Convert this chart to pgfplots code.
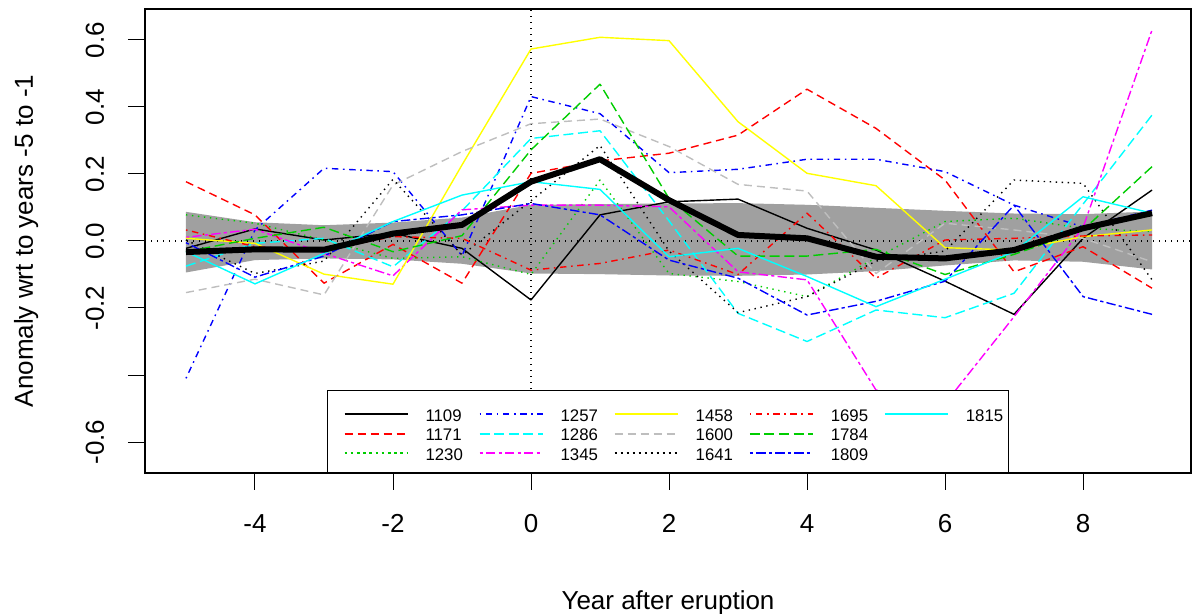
\documentclass[border=0pt]{standalone}
\usepackage{fontspec}
\setmainfont{Liberation Sans}
\usepackage{pgfplots}
\pgfplotsset{compat=1.18}
\usepackage{pgfplotstable}
\usepgfplotslibrary{fillbetween}

% R palette
\definecolor{rgreen}{RGB}{0,205,0}
\definecolor{rgray}{RGB}{190,190,190}
\definecolor{rblue}{RGB}{0,0,255}
\definecolor{rred}{RGB}{255,0,0}
\definecolor{rcyan}{RGB}{0,255,255}
\definecolor{rmagenta}{RGB}{255,0,255}
\definecolor{ryellow}{RGB}{255,255,0}
\definecolor{bandgray}{RGB}{160,160,160}

% R line types (lty 2..6)
\tikzset{
  ltydashed/.style={dash pattern=on 4pt off 2.5pt},
  ltydotted/.style={dash pattern=on 0.7pt off 2.3pt},
  ltydotdash/.style={dash pattern=on 0.8pt off 2.3pt on 3.2pt off 2.3pt},
  ltylongdash/.style={dash pattern=on 5pt off 2.3pt},
  ltytwodash/.style={dash pattern=on 1.6pt off 1.6pt on 4.7pt off 1.6pt},
}

% anomaly per eruption, years -5..9
\pgfplotstableread{
x  s1109  s1171  s1230  s1257  s1286  s1345  s1458  s1600  s1641  s1695  s1784  s1809  s1815  mean   up     lo
-5 -0.022  0.177  0.078 -0.410 -0.075  0.011  0.008 -0.154  0.003  0.033 -0.032 -0.005 -0.032 -0.033 0.087 -0.094
-4  0.036  0.078  0.053  0.033 -0.007  0.035 -0.007 -0.114 -0.097 -0.017  0.008 -0.108 -0.128 -0.025 0.056 -0.057
-3  0.003 -0.126  0.003  0.217  0.008 -0.037 -0.099 -0.161 -0.060 -0.027  0.041 -0.045 -0.037 -0.026 0.047 -0.052
-2  0.023 -0.010 -0.052  0.207 -0.077 -0.104 -0.129  0.167  0.184  0.013 -0.032  0.058  0.058  0.022 0.055 -0.055
-1 -0.022 -0.126 -0.047 -0.044  0.090  0.093  0.227  0.267 -0.042  0.008  0.016  0.078  0.137  0.048 0.070 -0.068
0  -0.176  0.202 -0.100  0.431  0.306  0.107  0.573  0.350  0.120 -0.087  0.272  0.112  0.177  0.177 0.108 -0.097
1   0.078  0.239  0.182  0.380  0.329  0.107  0.608  0.364  0.285 -0.067  0.468  0.078  0.154  0.244 0.110 -0.099
2   0.117  0.262 -0.097  0.204  0.060  0.102  0.598  0.282 -0.030 -0.027  0.127 -0.057 -0.047  0.122 0.112 -0.103
3   0.125  0.316 -0.121  0.214 -0.216 -0.092  0.356  0.169 -0.214 -0.100 -0.045 -0.111 -0.022  0.018 0.113 -0.104
4   0.038  0.453 -0.166  0.244 -0.300 -0.116  0.202  0.149 -0.166  0.083 -0.045 -0.221 -0.106  0.008 0.108 -0.100
5  -0.027  0.336 -0.050  0.244 -0.206 -0.445  0.165 -0.097 -0.060 -0.111 -0.025 -0.180 -0.196 -0.047 0.099 -0.090
6  -0.120  0.182  0.058  0.207 -0.229 -0.485 -0.020  0.053 -0.030  0.003 -0.100 -0.120 -0.114 -0.052 0.090 -0.073
7  -0.219 -0.092  0.068  0.107 -0.156 -0.226 -0.027  0.033  0.182  0.008 -0.040  0.107 -0.032 -0.027 0.082 -0.058
8   0.008 -0.017  0.038  0.042  0.110  0.040  0.013  0.008  0.172  0.015  0.033 -0.166  0.132  0.038 0.080 -0.062
9   0.152 -0.141  0.028  0.092  0.376  0.630  0.033 -0.062 -0.116  0.018  0.222 -0.219  0.083  0.083 0.088 -0.085
}\data

\begin{document}
\begin{tikzpicture}
\begin{axis}[
  at={(0pt,0pt)}, anchor=south west,
  scale only axis, width=523pt, height=232pt,
  xmin=-5.594, xmax=9.565, ymin=-0.6925, ymax=0.6925,
  axis line style={line width=0.6pt},
  tick align=outside, tick pos=left,
  major tick length=8.5pt,
  every tick/.style={black, line width=0.5pt},
  xtick={-4,-2,0,2,4,6,8}, xticklabels={-4,-2,0,2,4,6,8},
  ytick={-0.6,-0.4,-0.2,0,0.2,0.4,0.6},
  yticklabels={-0.6,{},-0.2,0.0,0.2,0.4,0.6},
  ticklabel style={font=\fontsize{13}{15}\selectfont, inner sep=0pt},
  xticklabel style={anchor=base},
  yticklabel style={rotate=90, anchor=base},
  xticklabel shift=21.5pt, yticklabel shift=12pt,
  xlabel={Year after eruption},
  ylabel={Anomaly wrt to years -5 to -1},
  label style={font=\fontsize{13}{15}\selectfont, inner sep=0pt},
  xlabel style={at={(axis description cs:0.5,-0.2931)}, anchor=base},
  ylabel style={at={(axis description cs:-0.1071,0.5)}, anchor=base},
  every axis plot/.append style={line width=0.7pt, line join=round},
  legend image code/.code={%
    \path (0pt,0pt) (37pt,6pt);
    \draw[line width=1pt,#1] (5.5pt,0.5pt) -- (37pt,0.5pt);},
  legend columns=5,
  legend cell align=left,
  legend style={
    at={(0.5,0)}, anchor=south,
    draw=black, line width=0.5pt, fill=white,
    font=\fontsize{8.4}{10}\selectfont,
    inner xsep=2.5pt, inner ysep=6pt,
    nodes={inner sep=0pt, text height=6pt, text depth=0pt},
    row sep=0.5pt,
    /tikz/every odd column/.append style={column sep=8.5pt},
    /tikz/every even column/.append style={column sep=2.5pt},
  },
]
% grey band
\addplot[name path=up, draw=none, forget plot] table[x=x, y=up] {\data};
\addplot[name path=lo, draw=none, forget plot] table[x=x, y=lo] {\data};
\addplot[bandgray, forget plot] fill between[of=up and lo];

% reference lines
\addplot[black, line width=0.6pt, ltydotted, forget plot] coordinates {(-5.594,0) (9.565,0)};
\addplot[black, line width=0.6pt, ltydotted, forget plot] coordinates {(0,-0.6925) (0,0.6925)};

% eruptions
\addplot[black, forget plot] table[x=x, y=s1109] {\data};
\addplot[rred, ltydashed, forget plot] table[x=x, y=s1171] {\data};
\addplot[rgreen, ltydotted, forget plot] table[x=x, y=s1230] {\data};
\addplot[rblue, ltydotdash, forget plot] table[x=x, y=s1257] {\data};
\addplot[rcyan, ltylongdash, forget plot] table[x=x, y=s1286] {\data};
\addplot[rmagenta, ltytwodash, forget plot] table[x=x, y=s1345] {\data};
\addplot[ryellow, forget plot] table[x=x, y=s1458] {\data};
\addplot[rgray, ltydashed, forget plot] table[x=x, y=s1600] {\data};
\addplot[black, ltydotted, forget plot] table[x=x, y=s1641] {\data};
\addplot[rred, ltydotdash, forget plot] table[x=x, y=s1695] {\data};
\addplot[rgreen, ltylongdash, forget plot] table[x=x, y=s1784] {\data};
\addplot[rblue, ltytwodash, forget plot] table[x=x, y=s1809] {\data};
\addplot[rcyan, forget plot] table[x=x, y=s1815] {\data};

% composite mean
\addplot[black, line width=3pt, forget plot] table[x=x, y=mean] {\data};

% legend, filled by columns as in the original
\addlegendimage{draw=black}\addlegendentry{1109}
\addlegendimage{draw=rblue, ltydotdash}\addlegendentry{1257}
\addlegendimage{draw=ryellow}\addlegendentry{1458}
\addlegendimage{draw=rred, ltydotdash}\addlegendentry{1695}
\addlegendimage{draw=rcyan}\addlegendentry{1815}
\addlegendimage{draw=rred, ltydashed}\addlegendentry{1171}
\addlegendimage{draw=rcyan, ltylongdash}\addlegendentry{1286}
\addlegendimage{draw=rgray, ltydashed}\addlegendentry{1600}
\addlegendimage{draw=rgreen, ltylongdash}\addlegendentry{1784}
\addlegendimage{empty legend}\addlegendentry{}
\addlegendimage{draw=rgreen, dash pattern=on 1.3pt off 1.8pt}\addlegendentry{1230}
\addlegendimage{draw=rmagenta, ltytwodash}\addlegendentry{1345}
\addlegendimage{draw=black, dash pattern=on 1.1pt off 1.9pt}\addlegendentry{1641}
\addlegendimage{draw=rblue, ltytwodash}\addlegendentry{1809}
\end{axis}
\pgfresetboundingbox
\path[use as bounding box] (-72.5pt,-70.5pt) rectangle (523.5pt,236.5pt);
\end{tikzpicture}
\end{document}
